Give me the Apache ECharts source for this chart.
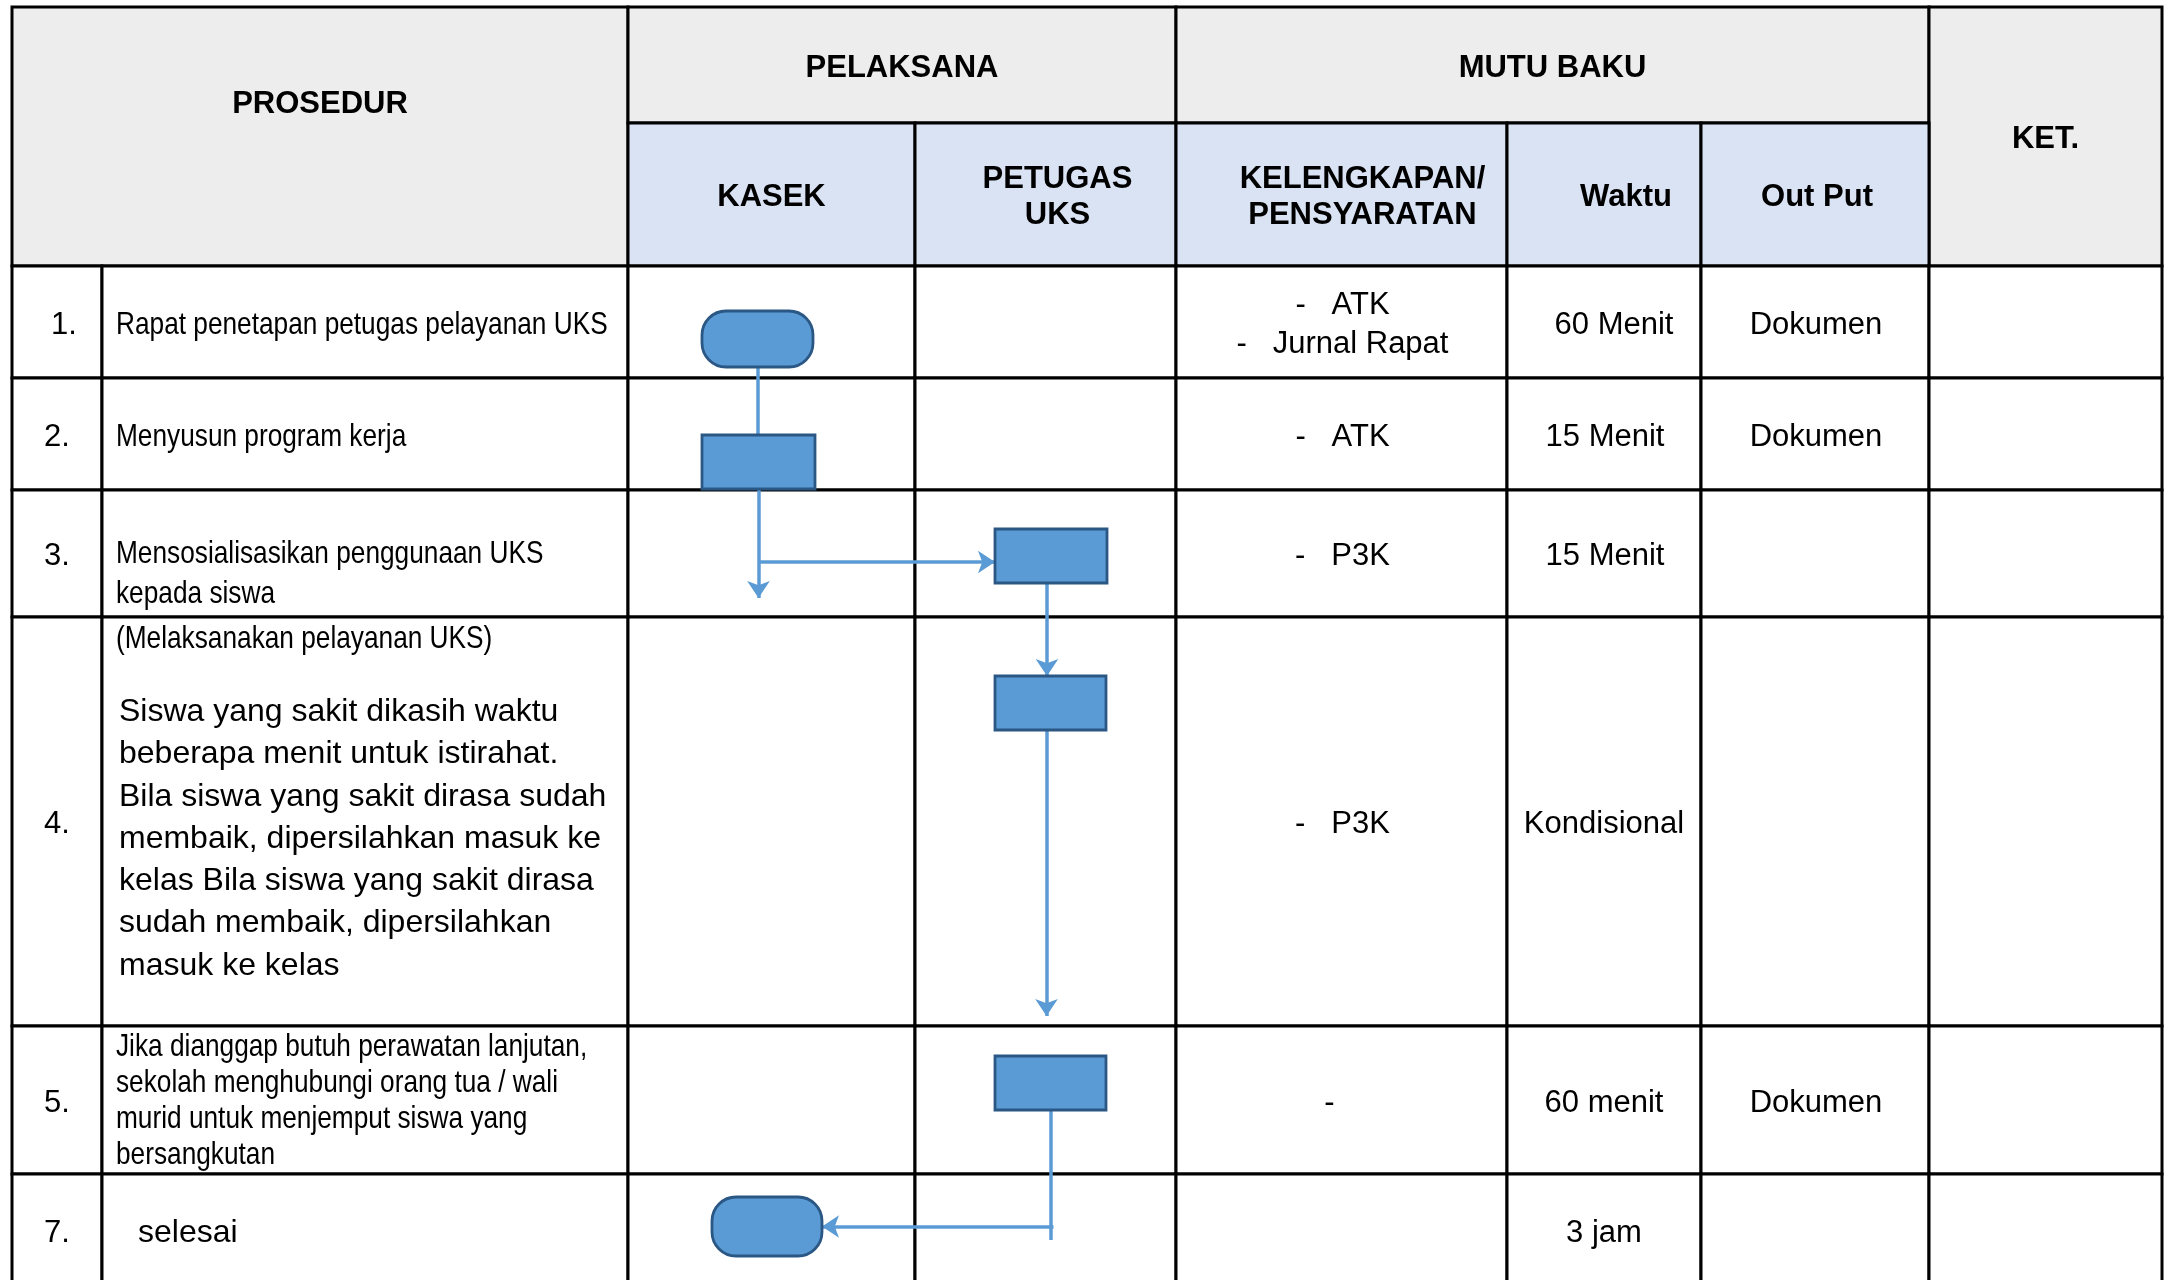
<!DOCTYPE html>
<html><head><meta charset="utf-8">
<script src="https://cdn.jsdelivr.net/npm/echarts@6/dist/echarts.min.js"></script>
<style>html,body{margin:0;padding:0;background:#fff}#c{width:2170px;height:1280px}</style>
</head><body><div id="c"></div>
<script>
// ---------------- data ----------------
const topHeaders = ['PROSEDUR', 'PELAKSANA', 'MUTU BAKU', 'KET.'];
const subHeaders = ['KASEK', 'PETUGAS\nUKS', 'KELENGKAPAN/\nPENSYARATAN', 'Waktu', 'Out Put'];
const stepNumbers = ['1.', '2.', '3.', '4.', '5.', '7.'];
const stepTexts = [
  'Rapat penetapan petugas pelayanan UKS',
  'Menyusun program kerja',
  'Mensosialisasikan penggunaan UKS\nkepada siswa',
  '(Melaksanakan pelayanan UKS)',
  'Jika dianggap butuh perawatan lanjutan,\nsekolah menghubungi orang tua / wali\nmurid untuk menjemput siswa yang\nbersangkutan',
  'selesai'
];
const stepDetails = ['', '', '',
  'Siswa yang sakit dikasih waktu\nbeberapa menit untuk istirahat.\nBila siswa yang sakit dirasa sudah\nmembaik, dipersilahkan masuk ke\nkelas Bila siswa yang sakit dirasa\nsudah membaik, dipersilahkan\nmasuk ke kelas',
  '', ''];
const kelengkapan = ['-   ATK\n-   Jurnal Rapat', '-   ATK', '-   P3K', '-   P3K', '-', ''];
const waktu = ['60 Menit', '15 Menit', '15 Menit', 'Kondisional', '60 menit', '3 jam'];
const outputs = ['Dokumen', 'Dokumen', '', '', 'Dokumen', ''];
const keterangan = ['', '', '', '', '', ''];
// flow nodes: [shape, lane, step index]
const flowNodes = [
  ['terminator', 'KASEK', 0],
  ['process', 'KASEK', 1],
  ['process', 'PETUGAS', 2],
  ['process', 'PETUGAS', 3],
  ['process', 'PETUGAS', 4],
  ['terminator', 'KASEK', 5]
];

// ---------------- layout ----------------
const W = 2170, H = 1280;
const colX = [12, 102, 628, 915, 1176, 1507, 1701, 1929, 2162];
const rowY = [7, 123, 266, 378, 490, 617, 1026, 1174, 1286];
const laneCol = { KASEK: 2, PETUGAS: 3 };
const nodeLayout = [ // dx from lane center, top offset in row, width, height
  { dx: -14, top: 45, w: 111, h: 56 },
  { dx: -13, top: 57, w: 113, h: 54 },
  { dx: 5.5, top: 39, w: 112, h: 54 },
  { dx: 5, top: 59, w: 111, h: 54 },
  { dx: 5, top: 30, w: 111, h: 54 },
  { dx: -4.5, top: 23, w: 110, h: 59 }
];
const GRAY = '#EDEDED', BLUE = '#DAE3F3';
const FONT = '"Liberation Sans", Arial, sans-serif';
const NARROW_SCALE = 0.82;
const TY = 3; // baseline nudge

const rowMid = i => (rowY[i + 2] + rowY[i + 3]) / 2;
const colMid = i => (colX[i] + colX[i + 1]) / 2;

// cells
const cells = [];
cells.push({ x0: colX[0], x1: colX[2], y0: rowY[0], y1: rowY[2], fill: GRAY });
cells.push({ x0: colX[2], x1: colX[4], y0: rowY[0], y1: rowY[1], fill: GRAY });
cells.push({ x0: colX[4], x1: colX[7], y0: rowY[0], y1: rowY[1], fill: GRAY });
cells.push({ x0: colX[7], x1: colX[8], y0: rowY[0], y1: rowY[2], fill: GRAY });
for (let c = 2; c < 7; c++) cells.push({ x0: colX[c], x1: colX[c + 1], y0: rowY[1], y1: rowY[2], fill: BLUE });
for (let r = 0; r < stepNumbers.length; r++) {
  for (let c = 0; c < 8; c++) {
    cells.push({ x0: colX[c], x1: colX[c + 1], y0: rowY[r + 2], y1: rowY[r + 3], fill: '#fff' });
  }
}

// texts
const texts = [];
function T(text, x, y, o) {
  const t = Object.assign({ text, x, y, align: 'center', va: 'middle', size: 31, weight: 'normal', lh: 38, sx: 1 }, o || {});
  if (t.va === 'middle') t.y += TY;
  texts.push(t);
}
const HB = { weight: 'bold', size: 31, lh: 36 };
const NB = { align: 'left', size: 32, sx: NARROW_SCALE };
T(topHeaders[0], (colX[0] + colX[2]) / 2, 101, HB);
T(topHeaders[1], (colX[2] + colX[4]) / 2, (rowY[0] + rowY[1]) / 2, HB);
T(topHeaders[2], (colX[4] + colX[7]) / 2, (rowY[0] + rowY[1]) / 2, HB);
T(topHeaders[3], colMid(7), (rowY[0] + rowY[2]) / 2, HB);
const subDx = [0, 12, 21, 22, 2];
subHeaders.forEach((s, i) => T(s, colMid(i + 2) + subDx[i], (rowY[1] + rowY[2]) / 2, HB));

const numDx = [7, 0, 0, 0, 0, 0];
stepNumbers.forEach((n, i) => T(n, colMid(0) + numDx[i], rowMid(i)));

// procedure texts
const px = colX[1] + 14;
T(stepTexts[0], px, rowMid(0), NB);
T(stepTexts[1], px, rowMid(1), NB);
T(stepTexts[2], px, rowY[4] + 44, Object.assign({}, NB, { va: 'top', lh: 40 }));
T(stepTexts[3], px, rowY[5] + 4, Object.assign({}, NB, { va: 'top', lh: 36 }));
T(stepDetails[3], px + 3, rowY[5] + 74, { align: 'left', va: 'top', size: 32, lh: 42.3 });
T(stepTexts[4], px, rowY[6] + 3, Object.assign({}, NB, { va: 'top', lh: 36 }));
T(stepTexts[5], px + 22, rowMid(5), { align: 'left', size: 32 });

kelengkapan.forEach((k, i) => { if (k) T(k, colMid(4) + (k === '-' ? -12 : 1), rowMid(i), { lh: 39 }); });
const wDx = [10, 1, 1, 0, 0, 0];
waktu.forEach((w, i) => T(w, colMid(5) + wDx[i], rowMid(i)));
outputs.forEach((o, i) => { if (o) T(o, colMid(6) + 1, rowMid(i)); });
keterangan.forEach((k, i) => { if (k) T(k, colMid(7), rowMid(i)); });

// nodes
const nodes = flowNodes.map((n, i) => {
  const L = nodeLayout[i];
  const cx = colMid(laneCol[n[1]]) + L.dx;
  const y0 = rowY[n[2] + 2] + L.top;
  return { shape: n[0], x0: cx - L.w / 2, x1: cx + L.w / 2, y0, y1: y0 + L.h, cx, cy: y0 + L.h / 2 };
});
// edges
const plainEdges = [
  [[nodes[0].cx, nodes[0].y1], [nodes[0].cx, nodes[1].y0]],
  [[nodes[4].cx, nodes[4].y1], [nodes[4].cx, rowY[7] + 66]]
];
const arrowEdges = [
  [[nodes[1].cx, nodes[1].y1], [nodes[1].cx, rowY[4] + 108]],
  [[nodes[1].cx, nodes[2].cy + 6], [nodes[2].x0, nodes[2].cy + 6]],
  [[nodes[2].cx - 4, nodes[2].y1], [nodes[2].cx - 4, nodes[3].y0]],
  [[nodes[3].cx - 4, nodes[3].y1], [nodes[3].cx - 4, rowY[6] - 10]],
  [[nodes[4].cx + 3, nodes[5].cy], [nodes[5].x1, nodes[5].cy]]
];

const chart = echarts.init(document.getElementById('c'), null, { renderer: 'canvas' });
chart.setOption({
  animation: false,
  backgroundColor: '#fff',
  grid: { left: 0, right: 0, top: 0, bottom: 0 },
  xAxis: { type: 'value', min: 0, max: W, show: false },
  yAxis: { type: 'value', min: 0, max: H, inverse: true, show: false },
  series: [
    {
      type: 'custom', name: 'cells', clip: false, z: 1,
      data: cells.map(c => [c.x0, c.y0]),
      encode: { x: 0, y: 1 },
      renderItem: (p, api) => {
        const c = cells[p.dataIndex];
        const a = api.coord([c.x0, c.y0]), b = api.coord([c.x1, c.y1]);
        return { type: 'rect', shape: { x: a[0], y: a[1], width: b[0] - a[0], height: b[1] - a[1] },
          style: { fill: c.fill, stroke: '#000', lineWidth: 3 } };
      }
    },
    {
      type: 'custom', name: 'texts', clip: false, z: 3,
      data: texts.map(t => [t.x, t.y]),
      encode: { x: 0, y: 1 },
      renderItem: (p, api) => {
        const t = texts[p.dataIndex];
        const a = api.coord([t.x, t.y]);
        return { type: 'text', x: a[0], y: a[1], scaleX: t.sx, scaleY: 1,
          style: { text: t.text, align: t.align, verticalAlign: t.va, fontFamily: FONT, fontSize: t.size,
            fontWeight: t.weight, lineHeight: t.lh, fill: '#000' } };
      }
    },
    {
      type: 'lines', coordinateSystem: 'cartesian2d', z: 4,
      symbol: ['none', 'none'],
      lineStyle: { color: '#5B9BD5', width: 3.5, opacity: 1 },
      data: plainEdges.map(c => ({ coords: c }))
    },
    {
      type: 'lines', coordinateSystem: 'cartesian2d', z: 4,
      symbol: ['none', 'arrow'], symbolSize: 17,
      lineStyle: { color: '#5B9BD5', width: 3.5, opacity: 1 },
      data: arrowEdges.map(c => ({ coords: c }))
    },
    {
      type: 'custom', name: 'nodes', clip: false, z: 5,
      data: nodes.map(n => [n.x0, n.y0]),
      encode: { x: 0, y: 1 },
      renderItem: (p, api) => {
        const n = nodes[p.dataIndex];
        const a = api.coord([n.x0, n.y0]), b = api.coord([n.x1, n.y1]);
        const h = b[1] - a[1];
        return { type: 'rect', shape: { x: a[0], y: a[1], width: b[0] - a[0], height: h, r: n.shape === 'terminator' ? [24, 24, 24, 24] : 0 },
          style: { fill: '#5B9BD5', stroke: '#2B5784', lineWidth: 2.8 } };
      }
    }
  ]
});
</script>
</body></html>
